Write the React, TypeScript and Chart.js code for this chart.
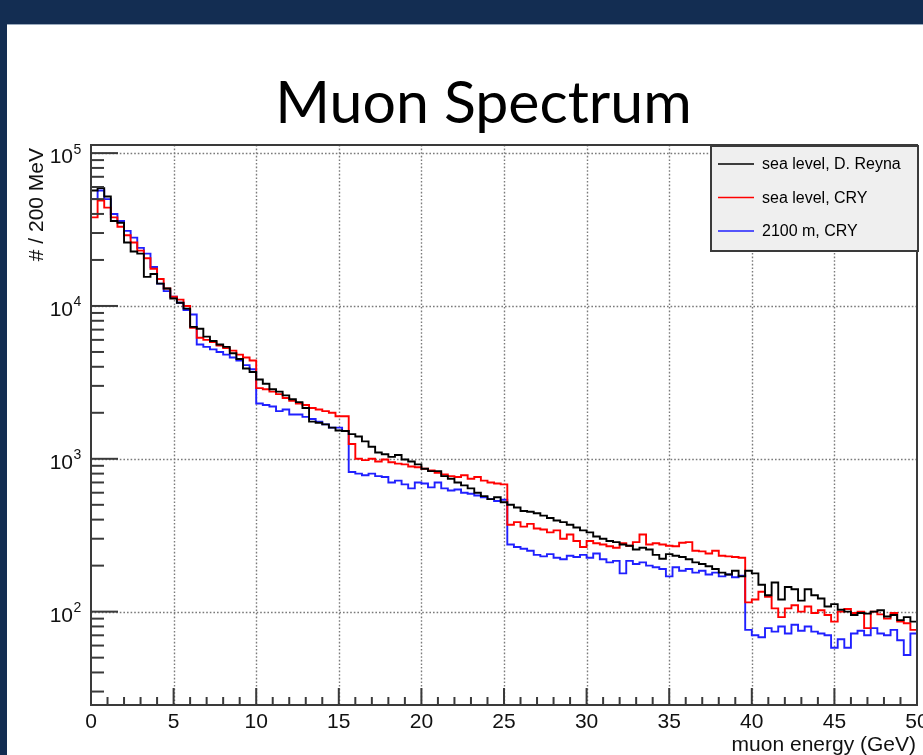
import React, { useEffect, useRef } from 'react';
import { Chart, registerables } from 'chart.js';

Chart.register(...registerables);

// ---------- data ----------
const BIN_WIDTH_GEV = 0.4;
const X_MIN = 0;
const X_MAX = 50;
const Y_MIN = 24.5;
const Y_MAX = 113000;

const X_MAJOR_TICKS = [0, 5, 10, 15, 20, 25, 30, 35, 40, 45, 50];
const X_MINOR_STEP = 1;
const Y_MAJOR_EXPONENTS = [2, 3, 4, 5];

const TITLE = 'Muon Spectrum';
const X_TITLE = 'muon energy (GeV)';
const Y_TITLE = '# / 200 MeV';

const SERIES_LABELS = ['sea level, D. Reyna', 'sea level, CRY', '2100 m, CRY'];
const SERIES_COLORS = ['#000000', '#ff0000', '#2020ff'];

// counts per bin (bins of BIN_WIDTH_GEV starting at 0)
const seaLevelReyna = [
  57000, 59000, 52000, 36000, 35000, 26000, 22700, 22000, 15500, 16200,
  14000, 13000, 11200, 10500, 9600, 7300, 7100, 6300, 5900, 5600,
  5400, 4900, 4500, 3900, 3700, 3300, 3100, 2850, 2750, 2600,
  2450, 2350, 2150, 1750, 1720, 1680, 1600, 1530, 1520, 1450,
  1400, 1300, 1200, 1100, 1070, 1030, 1060, 990, 960, 920,
  860, 830, 830, 770, 740, 700, 670, 640, 600, 570,
  545, 560, 520, 500, 480, 455, 450, 440, 425, 410,
  395, 385, 370, 355, 340, 330, 310, 300, 290, 285,
  275, 270, 255, 262, 255, 235, 222, 238, 232, 228,
  220, 210, 205, 198, 190, 180, 175, 185, 170, 185,
  178, 150, 128, 155, 120, 145, 140, 118, 140, 128,
  122, 108, 112, 103, 100, 95, 98, 97, 100, 102,
  93, 95, 88, 92, 86,
];

const seaLevelCRY = [
  38000, 49000, 44000, 38000, 33000, 29000, 26000, 23000, 20500, 17500,
  15000, 13000, 11500, 11000, 10000, 7200, 6200, 6000, 5800, 5500,
  5300, 5100, 4800, 4600, 4400, 2900, 2850, 2750, 2650, 2500,
  2400, 2300, 2250, 2150, 2100, 2050, 2000, 1900, 1900, 1250,
  1000, 980, 1000, 960, 990, 950, 930, 920, 890, 880,
  860, 840, 810, 790, 770, 760, 780, 740, 760, 720,
  700, 690, 680, 370, 385, 360, 375, 350, 345, 330,
  340, 300, 320, 290, 265, 290, 280, 275, 268, 262,
  280, 270, 285, 320, 275, 280, 275, 270, 268, 282,
  285, 250, 248, 240, 250, 232, 230, 228, 225, 115,
  120, 135, 125, 105, 92, 105, 110, 100, 108, 98,
  102, 95, 86, 100, 104, 98, 100, 78, 100, 96,
  90, 98, 86, 84, 76,
];

const m2100CRY = [
  50000, 57000, 50000, 40000, 36000, 31000, 28000, 24000, 22000, 18000,
  14000, 12500, 11500, 10500, 9400, 8800, 5600, 5400, 5200, 5000,
  4800, 4600, 4400, 4100, 3850, 2300, 2250, 2200, 2050, 2100,
  1950, 1950, 1880, 1820, 1750, 1680, 1600, 1600, 1520, 820,
  800, 780, 800, 770, 760, 700, 720, 680, 640, 700,
  690, 650, 700, 640, 620, 630, 600, 590, 575, 560,
  545, 530, 540, 275, 265, 258, 250, 235, 230, 238,
  225, 220, 232, 228, 235, 225, 240, 220, 210, 215,
  178, 215, 205, 210, 200, 195, 190, 170, 195, 185,
  190, 180, 185, 175, 180, 170, 175, 168, 172, 76,
  70, 68, 78, 74, 80, 72, 82, 75, 80, 74,
  72, 70, 58, 66, 58, 72, 75, 70, 78, 72,
  70, 76, 65, 52, 72,
];

const SERIES = [seaLevelReyna, seaLevelCRY, m2100CRY];

// histogram -> step points (low edges + closing point at the upper edge)
function toStepPoints(values: number[]) {
  const pts = values.map((v, i) => ({ x: +(i * BIN_WIDTH_GEV).toFixed(4), y: v }));
  pts.push({ x: +(values.length * BIN_WIDTH_GEV).toFixed(4), y: values[values.length - 1] });
  return pts;
}

const AXIS_COLOR = '#3a3a3a';
const LABEL_FONT = '21px "Liberation Sans", Arial, sans-serif';

const rootStylePlugin = {
  id: 'rootStyle',
  beforeDatasetsDraw(chart: any) {
    const { ctx, chartArea: a, scales } = chart;
    const xs = scales.x;
    const ys = scales.y;
    ctx.save();
    ctx.strokeStyle = '#7a7a7a';
    ctx.lineWidth = 1.4;
    ctx.setLineDash([1.6, 2]);
    X_MAJOR_TICKS.forEach((v) => {
      if (v <= X_MIN || v >= X_MAX) return;
      const px = Math.round(xs.getPixelForValue(v)) + 0.5;
      ctx.beginPath();
      ctx.moveTo(px, a.top);
      ctx.lineTo(px, a.bottom);
      ctx.stroke();
    });
    Y_MAJOR_EXPONENTS.forEach((e) => {
      const py = Math.round(ys.getPixelForValue(Math.pow(10, e))) + 0.5;
      ctx.beginPath();
      ctx.moveTo(a.left, py);
      ctx.lineTo(a.right, py);
      ctx.stroke();
    });
    ctx.restore();
  },
  afterDatasetsDraw(chart: any) {
    const { ctx, chartArea: a, scales } = chart;
    const xs = scales.x;
    const ys = scales.y;
    ctx.save();
    ctx.setLineDash([]);

    // frame
    ctx.strokeStyle = AXIS_COLOR;
    ctx.lineWidth = 2;
    ctx.strokeRect(a.left, a.top, a.right - a.left, a.bottom - a.top);

    // x ticks (inside, from bottom)
    ctx.lineWidth = 2;
    for (let v = X_MIN; v <= X_MAX; v += X_MINOR_STEP) {
      const major = X_MAJOR_TICKS.includes(v);
      const px = xs.getPixelForValue(v);
      ctx.beginPath();
      ctx.moveTo(px, a.bottom);
      ctx.lineTo(px, a.bottom - (major ? 17 : 8));
      ctx.stroke();
    }
    // y ticks (inside, from left)
    for (let e = 1; e <= 5; e++) {
      for (let m = 1; m <= 9; m++) {
        const v = m * Math.pow(10, e);
        if (v < Y_MIN || v > Y_MAX) continue;
        const py = ys.getPixelForValue(v);
        ctx.beginPath();
        ctx.moveTo(a.left, py);
        ctx.lineTo(a.left + (m === 1 ? 27 : 13), py);
        ctx.stroke();
      }
    }

    // x labels
    ctx.fillStyle = '#111';
    ctx.font = LABEL_FONT;
    ctx.textAlign = 'center';
    ctx.textBaseline = 'alphabetic';
    X_MAJOR_TICKS.forEach((v) => {
      ctx.fillText(String(v), xs.getPixelForValue(v), 728);
    });

    // y labels 10^n
    Y_MAJOR_EXPONENTS.forEach((e) => {
      const py = ys.getPixelForValue(Math.pow(10, e));
      ctx.font = LABEL_FONT;
      ctx.textAlign = 'right';
      ctx.fillText('10', 73, py + 10);
      ctx.font = '14px "Liberation Sans", Arial, sans-serif';
      ctx.textAlign = 'left';
      ctx.fillText(String(e), 73.5, py + 0.5);
    });

    // axis titles
    ctx.font = LABEL_FONT;
    ctx.textAlign = 'right';
    ctx.fillText(X_TITLE, 916, 751);
    ctx.save();
    ctx.translate(43, 148);
    ctx.rotate(-Math.PI / 2);
    ctx.textAlign = 'right';
    ctx.fillText(Y_TITLE, 0, 0);
    ctx.restore();

    // legend box
    const lx = 711, ly = 146, lw = 207, lh = 105;
    ctx.fillStyle = '#efefef';
    ctx.fillRect(lx, ly, lw, lh);
    ctx.strokeStyle = AXIS_COLOR;
    ctx.lineWidth = 2;
    ctx.strokeRect(lx, ly, lw, lh);
    const rows = [164, 197.5, 231];
    chart.data.datasets.forEach((ds: any, i: number) => {
      ctx.strokeStyle = ds.borderColor;
      ctx.lineWidth = 1.6;
      ctx.beginPath();
      ctx.moveTo(718, rows[i]);
      ctx.lineTo(754, rows[i]);
      ctx.stroke();
      ctx.fillStyle = '#000';
      ctx.font = '16px "Liberation Sans", Arial, sans-serif';
      ctx.textAlign = 'left';
      ctx.textBaseline = 'middle';
      ctx.fillText(ds.label, 762, rows[i] + 1);
    });

    // title
    ctx.fillStyle = '#000';
    ctx.font = '59px Lato, "Open Sans", sans-serif';
    ctx.textAlign = 'center';
    ctx.textBaseline = 'alphabetic';
    ctx.fillText(TITLE, 483.5, 123);

    ctx.restore();
  },
};

export default function App() {
  const canvasRef = useRef<HTMLCanvasElement | null>(null);

  useEffect(() => {
    const canvas = canvasRef.current;
    if (!canvas) return;
    const datasets = SERIES.map((vals, i) => ({
      label: SERIES_LABELS[i],
      data: toStepPoints(vals),
      borderColor: SERIES_COLORS[i],
      borderWidth: 1.9,
      stepped: 'before' as const,
      pointRadius: 0,
      fill: false,
      order: i,
    }));
    const chart = new Chart(canvas, {
      type: 'line',
      data: { datasets },
      options: {
        animation: false,
        responsive: false,
        devicePixelRatio: 1,
        events: [],
        layout: { padding: { left: 91, top: 145, right: 6, bottom: 50 } },
        plugins: {
          legend: { display: false },
          tooltip: { enabled: false },
          title: { display: false },
        },
        scales: {
          x: { type: 'linear', min: X_MIN, max: X_MAX, display: false },
          y: { type: 'logarithmic', min: Y_MIN, max: Y_MAX, display: false },
        },
      },
      plugins: [rootStylePlugin],
    } as any);
    return () => chart.destroy();
  }, []);

  return (
    <div
      style={{
        position: 'fixed',
        left: 0,
        top: 0,
        width: 923,
        height: 755,
        background: '#132d52',
        overflow: 'hidden',
      }}
    >
      <div
        style={{
          position: 'absolute',
          left: 7,
          top: 24,
          right: 0,
          bottom: 0,
          background: '#ffffff',
          borderTop: '1px solid #9aaabd',
        }}
      />
      <canvas
        ref={canvasRef}
        width={923}
        height={755}
        style={{ position: 'absolute', left: 0, top: 0, width: 923, height: 755 }}
      />
    </div>
  );
}
